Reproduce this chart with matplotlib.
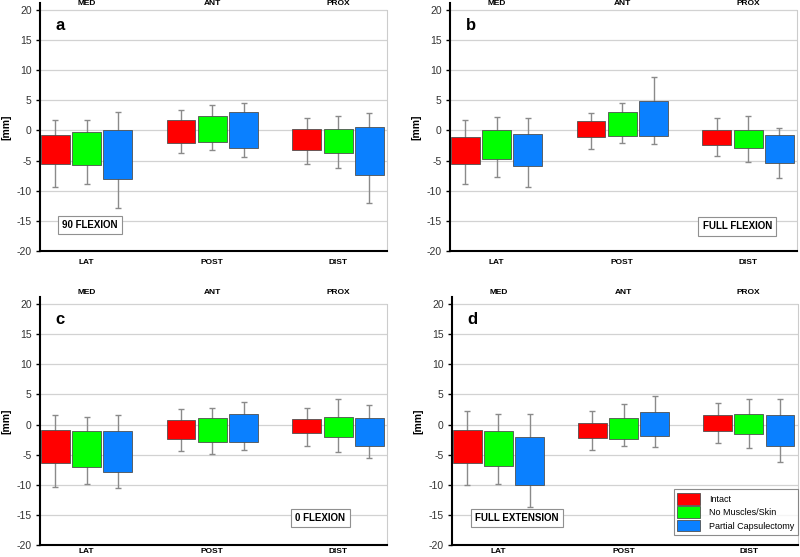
import numpy as np
import matplotlib
matplotlib.use("Agg")
import matplotlib.pyplot as plt
from matplotlib.patches import Patch

plt.rcParams['font.family'] = ['Liberation Sans', 'DejaVu Sans']

# categories
groups_top = ["MED", "ANT", "PROX"]
groups_bottom = ["LAT", "POST", "DIST"]
series = ["Intact", "No Muscles/Skin", "Partial Capsulectomy"]
colors = ["#ff0000", "#00ff00", "#0a80ff"]

# rows = series (Intact, No Muscles/Skin, Partial Capsulectomy), cols = groups
# panel a - 90 flexion
a_box_hi = [[-0.8, 1.7, 0.2], [-0.2, 2.45, 0.2], [0.05, 3.0, 0.5]]
a_box_lo = [[-5.5, -2.05, -3.3], [-5.75, -1.9, -3.8], [-8.1, -2.9, -7.4]]
a_err_hi = [[1.8, 3.4, 2.1], [1.75, 4.2, 2.45], [3.1, 4.5, 2.95]]
a_err_lo = [[-9.3, -3.8, -5.5], [-8.9, -3.3, -6.3], [-12.9, -4.4, -12.1]]

# panel b - full flexion
b_box_hi = [[-1.05, 1.55, 0.05], [0.15, 3.0, 0.15], [-0.6, 4.95, -0.8]]
b_box_lo = [[-5.5, -1.05, -2.4], [-4.65, -0.95, -2.9], [-5.9, -0.9, -5.35]]
b_err_hi = [[1.7, 2.95, 2.1], [2.3, 4.6, 2.45], [2.1, 8.8, 0.45]]
b_err_lo = [[-8.9, -3.0, -4.25], [-7.8, -2.15, -5.2], [-9.35, -2.3, -7.95]]

# panel c - 0 flexion
c_box_hi = [[-0.9, 0.8, 0.9], [-1.0, 1.05, 1.3], [-1.05, 1.75, 1.05]]
c_box_lo = [[-6.45, -2.45, -1.45], [-7.0, -2.85, -2.15], [-7.8, -2.85, -3.55]]
c_err_hi = [[1.6, 2.6, 2.7], [1.3, 2.7, 4.2], [1.6, 3.7, 3.25]]
c_err_lo = [[-10.3, -4.4, -3.5], [-9.9, -4.9, -4.5], [-10.6, -4.3, -5.5]]

# panel d - full extension
d_box_hi = [[-0.9, 0.2, 1.55], [-1.0, 1.05, 1.72], [-2.15, 2.0, 1.62]]
d_box_lo = [[-6.4, -2.3, -1.1], [-6.9, -2.4, -1.57], [-10.1, -1.9, -3.6]]
d_err_hi = [[2.25, 2.25, 3.5], [1.75, 3.4, 4.15], [1.7, 4.65, 4.2]]
d_err_lo = [[-10.1, -4.3, -3.0], [-9.8, -3.5, -3.9], [-13.7, -3.8, -6.25]]

panel_letters = ["a", "b", "c", "d"]
panel_titles = ["90 FLEXION", "FULL FLEXION", "0 FLEXION", "FULL EXTENSION"]
title_pos = [(0.144, 0.105), (0.828, 0.10), (0.807, 0.109), (0.187, 0.109)]


def draw_panel(ax, box_hi, box_lo, err_hi, err_lo, letter, title, tpos,
               top_offset, bottom_offset, legend=False):
    x = np.arange(len(groups_top))
    width = 0.23
    offsets = [-0.249, 0.0, 0.249]
    for i in range(len(series)):
        hi = np.array(box_hi[i])
        lo = np.array(box_lo[i])
        ehi = np.array(err_hi[i])
        elo = np.array(err_lo[i])
        xs = x + offsets[i]
        mid = (ehi + elo) / 2
        ax.errorbar(xs, mid, yerr=[mid - elo, ehi - mid], fmt='none',
                    ecolor='#8a8a8a', elinewidth=1.0, capsize=2.5, capthick=1.0, zorder=2)
        ax.bar(xs, hi - lo, bottom=lo, width=width, color=colors[i],
               edgecolor='#505050', linewidth=0.6, zorder=3, label=series[i])

    ax.set_xlim(-0.37, 2.39)
    ax.set_ylim(-20, 21.16)
    ax.set_yticks(np.arange(-20, 21, 5))
    ax.set_yticklabels([str(v) for v in range(-20, 21, 5)], fontsize=7.5, color='#333333')
    for y in range(-15, 21, 5):
        ax.axhline(y, color='#d2d2d2', linewidth=0.9, zorder=1)
    ax.set_xticks([])

    ax.spines['top'].set_visible(False)
    ax.spines['right'].set_color('#cccccc')
    ax.spines['right'].set_bounds(-20, 20)
    ax.spines['left'].set_linewidth(1.5)
    ax.spines['bottom'].set_linewidth(1.5)
    ax.tick_params(axis='y', length=3, width=1, direction='out', pad=3)

    for k in range(len(groups_top)):
        ax.annotate(groups_top[k], (k, 20), xycoords='data',
                    xytext=(0, top_offset), textcoords='offset points', ha='center',
                    va='center', fontsize=6, fontweight='bold', annotation_clip=False)
        ax.annotate(groups_bottom[k], (k, -20), xycoords='data',
                    xytext=(0, -bottom_offset), textcoords='offset points', ha='center',
                    va='center', fontsize=6, fontweight='bold', annotation_clip=False)

    ax.set_ylabel('[mm]', fontsize=7.5, fontweight='bold')
    ax.yaxis.set_label_coords(-0.083, 0.5)
    ax.text(0.045, 0.91, letter, transform=ax.transAxes, fontsize=12,
            fontweight='bold', va='center', ha='left')
    ax.text(tpos[0], tpos[1], title, transform=ax.transAxes, fontsize=7,
            fontweight='bold', ha='center', va='center', zorder=5,
            bbox=dict(boxstyle='square,pad=0.45', facecolor='white',
                      edgecolor='#909090', linewidth=0.8))

    if legend:
        handles = [Patch(facecolor=colors[i], edgecolor='#505050', linewidth=0.6)
                   for i in range(len(series))]
        leg = ax.legend(handles, series, loc='lower right', bbox_to_anchor=(1.0, 0.04),
                        borderaxespad=0, fontsize=6.5, frameon=True, fancybox=False,
                        handlelength=2.5, handleheight=1.6, labelspacing=0.2,
                        handletextpad=1.0, borderpad=0.4)
        leg.get_frame().set_edgecolor('#707070')
        leg.get_frame().set_linewidth(0.8)
        leg.set_zorder(6)


fig = plt.figure(figsize=(8, 5.57), dpi=100)
rects = [
    [0.05, 0.5494, 0.434, 0.4452],
    [0.5625, 0.5494, 0.434, 0.4452],
    [0.05, 0.0215, 0.434, 0.4453],
    [0.565, 0.0215, 0.432, 0.4453],
]
top_offsets = [4.5, 4.5, 8, 8]
bottom_offsets = [8, 8, 5, 5]
data = [
    (a_box_hi, a_box_lo, a_err_hi, a_err_lo),
    (b_box_hi, b_box_lo, b_err_hi, b_err_lo),
    (c_box_hi, c_box_lo, c_err_hi, c_err_lo),
    (d_box_hi, d_box_lo, d_err_hi, d_err_lo),
]
for p in range(4):
    ax = fig.add_axes(rects[p])
    draw_panel(ax, *data[p], panel_letters[p], panel_titles[p], title_pos[p],
               top_offsets[p], bottom_offsets[p], legend=(p == 3))

plt.savefig('out.png', dpi=100)
